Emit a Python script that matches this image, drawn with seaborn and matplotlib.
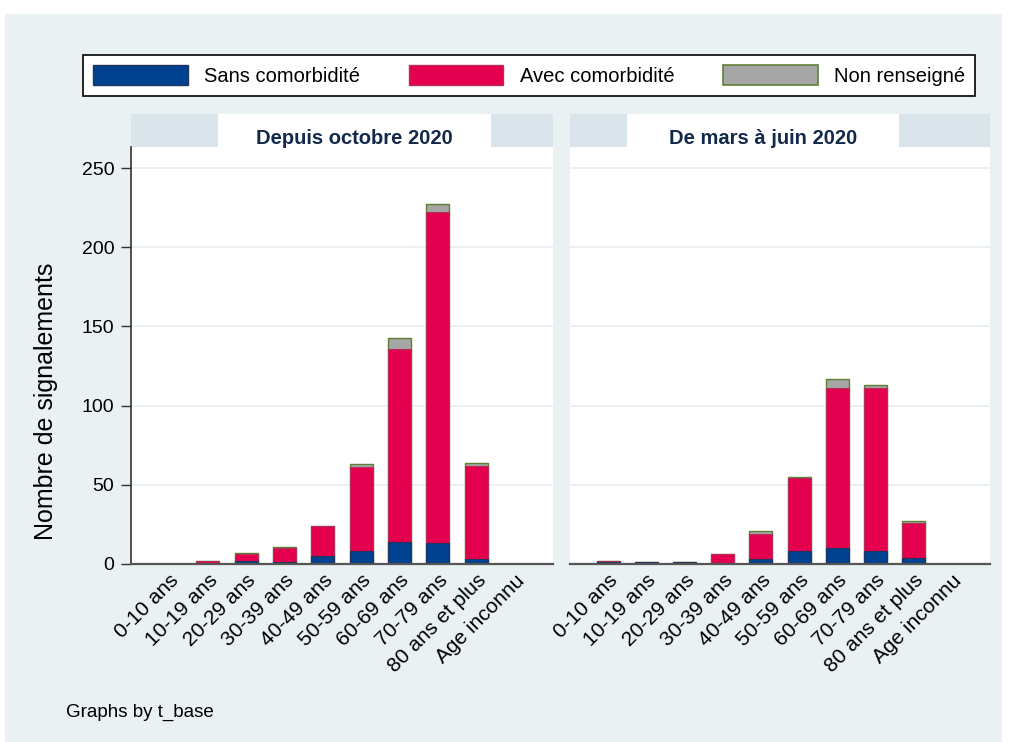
import numpy as np
import pandas as pd
import seaborn as sns
import matplotlib
matplotlib.use("Agg")
from matplotlib import pyplot as plt
from matplotlib.patches import Patch, Rectangle

ages = ["0-10 ans", "10-19 ans", "20-29 ans", "30-39 ans", "40-49 ans",
        "50-59 ans", "60-69 ans", "70-79 ans", "80 ans et plus", "Age inconnu"]
panels = ["Depuis octobre 2020", "De mars à juin 2020"]

oct_sans = [0, 0, 2, 1, 5, 8, 14, 13, 3, 0]
oct_avec = [0, 2, 4, 9, 19, 53, 122, 209, 59, 0]
oct_nr = [0, 0, 1, 1, 0, 2, 7, 5, 2, 0]

mars_sans = [1, 1, 1, 0, 3, 8, 10, 8, 4, 0]
mars_avec = [1, 0, 0, 6, 16, 46, 101, 103, 22, 0]
mars_nr = [0, 0, 0, 0, 2, 1, 6, 2, 1, 0]

yticks = [0, 50, 100, 150, 200, 250]

BLUE = "#00428f"
RED = "#e4004f"
GREY = "#a6a6a6"
BG = "#e9f1f3"
STRIP = "#d9e5ea"

sns.set_style("white")
plt.rcParams['font.family'] = ['Liberation Sans', 'DejaVu Sans']
plt.rcParams['text.color'] = 'black'
plt.rcParams['xtick.color'] = 'black'
plt.rcParams['ytick.color'] = 'black'
plt.rcParams['axes.labelcolor'] = 'black'

rows = []
for panel, sans, avec, nr in [(panels[0], oct_sans, oct_avec, oct_nr),
                              (panels[1], mars_sans, mars_avec, mars_nr)]:
    for age, s, a, n in zip(ages, sans, avec, nr):
        rows.append({"panel": panel, "age": age, "sans": s,
                     "sans_avec": s + a, "total": s + a + n})
df = pd.DataFrame(rows)

W, H = 1009, 742
fig = plt.figure(figsize=(W / 100, H / 100), dpi=100)
fig.patch.set_facecolor("white")
fig.patches.append(Rectangle((5 / W, 0), 997 / W, 1 - 14 / H, transform=fig.transFigure,
                             facecolor=BG, edgecolor="none", zorder=-10))


def px_box(x0, y0, x1, y1):
    return [x0 / W, 1 - y1 / H, (x1 - x0) / W, (y1 - y0) / H]


panel_x = [(131, 553), (570, 990)]
title_box = [(218, 491), (627, 899)]

for i, panel in enumerate(panels):
    x0, x1 = panel_x[i]
    sub = df[df["panel"] == panel]

    # strip with the white title box
    sax = fig.add_axes(px_box(x0, 114, x1, 147))
    sax.set_facecolor(STRIP)
    sax.set_xlim(x0, x1)
    sax.set_ylim(0, 1)
    sax.add_patch(Rectangle((title_box[i][0], 0), title_box[i][1] - title_box[i][0], 1,
                            facecolor="white", edgecolor="none"))
    sax.set_xticks([])
    sax.set_yticks([])
    for sp in sax.spines.values():
        sp.set_visible(False)
    fig.text((title_box[i][0] + title_box[i][1]) / 2 / W, 1 - 139 / H, panel,
             ha="center", va="center", fontsize=14.5, fontweight="bold",
             color="#13294b", zorder=10)

    ax = fig.add_axes(px_box(x0, 147, x1, 564))
    ax.set_facecolor("white")
    for yv in yticks:
        ax.axhline(yv, color="#e6eef1", lw=1.2, zorder=0)

    sns.barplot(data=sub, x="age", y="total", order=ages, color=GREY, edgecolor="#5f7f35",
                linewidth=1, width=0.6, errorbar=None, saturation=1, ax=ax)
    sns.barplot(data=sub, x="age", y="sans_avec", order=ages, color=RED, edgecolor="#b3305a",
                linewidth=0.8, width=0.6, errorbar=None, saturation=1, ax=ax)
    sns.barplot(data=sub, x="age", y="sans", order=ages, color=BLUE, edgecolor="#1f3560",
                linewidth=0.8, width=0.6, errorbar=None, saturation=1, ax=ax)

    ax.set_xlim(-1, 10)
    ax.set_ylim(0, 263.3)
    ax.set_xlabel("")
    ax.set_ylabel("")
    for sp in ["top", "right"]:
        ax.spines[sp].set_visible(False)
    ax.spines["bottom"].set_color("#555555")
    ax.spines["bottom"].set_linewidth(1.6)
    ax.set_xticks(range(len(ages)))
    ax.set_xticklabels(ages, rotation=45, ha="right", rotation_mode="anchor", fontsize=15)
    ax.tick_params(axis="x", length=0, pad=5)
    if i == 0:
        ax.spines["left"].set_color("#333333")
        ax.spines["left"].set_linewidth(1.2)
        ax.set_yticks(yticks)
        ax.set_yticklabels([str(v) for v in yticks], fontsize=14)
        ax.tick_params(axis="y", length=7, width=1, color="#333333", pad=5, left=True)
        ax.set_ylabel("Nombre de signalements", fontsize=18)
        ax.yaxis.set_label_coords(-0.173, 0.39)
    else:
        ax.spines["left"].set_visible(False)
        ax.set_yticks([])

handles = [Patch(facecolor=BLUE, edgecolor="#1f3560"),
           Patch(facecolor=RED, edgecolor="#b3305a"),
           Patch(facecolor=GREY, edgecolor="#5f7f35", linewidth=1.2)]
labels = ["Sans comorbidité", "Avec comorbidité", "Non renseigné"]
leg = fig.legend(handles, labels, loc="lower left", bbox_to_anchor=px_box(83, 50, 975, 96),
                 mode="expand", ncol=3, fontsize=14.5, frameon=True, fancybox=False,
                 edgecolor="black", framealpha=1, handlelength=4.7, handleheight=1.2,
                 handletextpad=0.8, borderpad=0.5, borderaxespad=0)
leg.get_frame().set_linewidth(1.2)

fig.text(66 / W, 1 - 712 / H, "Graphs by t_base", fontsize=13.5, va="center", ha="left")

fig.savefig("out.png", dpi=100)
